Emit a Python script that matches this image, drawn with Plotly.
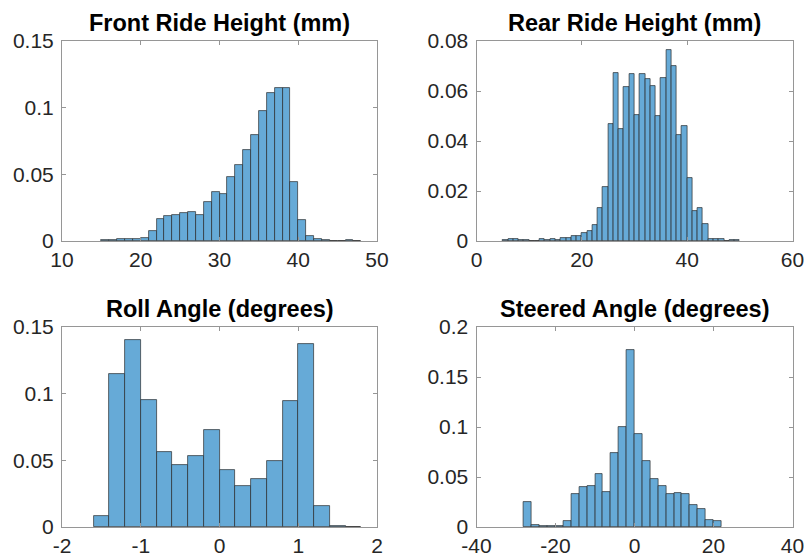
import plotly.graph_objects as go

# ---- data (bin left edges, bin widths, probability values) ----
front_edges = [15, 16, 17, 18, 19, 20, 21, 22, 23, 24, 25, 26, 27, 28, 29, 30, 31,
               32, 33, 34, 35, 36, 37, 38, 39, 40, 41, 42, 43, 44, 45, 46, 47]
front_width = 1
front_vals = [0.0005, 0.0005, 0.0012, 0.0015, 0.0015, 0.0025, 0.0072, 0.0167, 0.0185,
              0.0197, 0.0207, 0.0215, 0.0192, 0.0292, 0.0367, 0.0355, 0.0480, 0.0567,
              0.0680, 0.0797, 0.0972, 0.1110, 0.1150, 0.1150, 0.0445, 0.0155, 0.0040,
              0.0012, 0.0005, 0.0002, 0.0003, 0.0004, 0.0003]

rear_edges = [5, 6, 7, 8, 9, 10, 11, 12, 13, 14, 15, 16, 17, 18, 19, 20, 21, 22, 23,
              24, 25, 26, 27, 28, 29, 30, 31, 32, 33, 34, 35, 36, 37, 38, 39, 40, 41,
              42, 43, 44, 45, 46, 47, 48, 49]
rear_width = 1
rear_vals = [0.0004, 0.0007, 0.0007, 0.0004, 0.0004, 0.0, 0.0, 0.0009, 0.0004, 0.0007,
             0.0004, 0.0011, 0.0012, 0.0020, 0.0021, 0.0033, 0.0040, 0.0065, 0.0132,
             0.0216, 0.0468, 0.0672, 0.0449, 0.0616, 0.0668, 0.0504, 0.0668, 0.0648,
             0.0619, 0.0499, 0.0653, 0.0764, 0.0700, 0.0423, 0.0460, 0.0251, 0.0121,
             0.0132, 0.0070, 0.0009, 0.0008, 0.0009, 0.0, 0.0003, 0.0003]

roll_edges = [-1.6, -1.4, -1.2, -1.0, -0.8, -0.6, -0.4, -0.2, 0.0, 0.2, 0.4, 0.6,
              0.8, 1.0, 1.2, 1.4, 1.6]
roll_width = 0.2
roll_vals = [0.0080, 0.1150, 0.1400, 0.0955, 0.0565, 0.0463, 0.0530, 0.0725, 0.0428,
             0.0310, 0.0360, 0.0498, 0.0948, 0.1375, 0.0160, 0.0010, 0.0003]

steer_edges = [-28, -26, -24, -22, -20, -18, -16, -14, -12, -10, -8, -6, -4, -2, 0,
               2, 4, 6, 8, 10, 12, 14, 16, 18, 20]
steer_width = 2
steer_vals = [0.0253, 0.0023, 0.0013, 0.0010, 0.0010, 0.0060, 0.0330, 0.0400, 0.0410,
              0.0530, 0.0347, 0.0737, 0.0997, 0.1770, 0.0933, 0.0660, 0.0483, 0.0413,
              0.0333, 0.0340, 0.0333, 0.0220, 0.0177, 0.0073, 0.0063]

titles = ["Front Ride Height (mm)", "Rear Ride Height (mm)",
          "Roll Angle (degrees)", "Steered Angle (degrees)"]

x_ticks = [[10, 20, 30, 40, 50], [0, 20, 40, 60], [-2, -1, 0, 1, 2], [-40, -20, 0, 20, 40]]
x_ticktext = [["10", "20", "30", "40", "50"], ["0", "20", "40", "60"],
              ["-2", "-1", "0", "1", "2"], ["-40", "-20", "0", "20", "40"]]
y_ticks = [[0, 0.05, 0.1, 0.15], [0, 0.02, 0.04, 0.06, 0.08],
           [0, 0.05, 0.1, 0.15], [0, 0.05, 0.1, 0.15, 0.2]]
y_ticktext = [["0", "0.05", "0.1", "0.15"], ["0", "0.02", "0.04", "0.06", "0.08"],
              ["0", "0.05", "0.1", "0.15"], ["0", "0.05", "0.1", "0.15", "0.2"]]
x_ranges = [[10, 50], [0, 60], [-2, 2], [-40, 40]]
y_ranges = [[0, 0.15], [0, 0.08], [0, 0.15], [0, 0.2]]

series = [(front_edges, front_vals, front_width), (rear_edges, rear_vals, rear_width),
          (roll_edges, roll_vals, roll_width), (steer_edges, steer_vals, steer_width)]

# ---- layout geometry (pixels) ----
W, H = 806, 558
boxes = [(62, 377, 41, 241), (476.5, 792.5, 41, 241),
         (62, 377, 327, 527), (476.5, 792.5, 327, 527)]

BAR_FILL = "rgb(102,170,215)"
BAR_EDGE = "rgba(38,38,38,0.85)"
AX_COL = "#969696"
TXT_COL = "#262626"
FONT = "Liberation Sans, Arial, Helvetica, sans-serif"

fig = go.Figure()
layout = dict(width=W, height=H, margin=dict(l=0, r=0, t=0, b=0, autoexpand=False),
              paper_bgcolor="white", plot_bgcolor="white", showlegend=False,
              bargap=0, font=dict(family=FONT, size=21, color=TXT_COL))
annotations = []
for i, ((edges, vals, w), (l, r, t, b)) in enumerate(zip(series, boxes)):
    n = "" if i == 0 else str(i + 1)
    fig.add_trace(go.Bar(x=edges, y=vals, width=[w] * len(edges), offset=0,
                         marker=dict(color=BAR_FILL, line=dict(color=BAR_EDGE, width=0.8)),
                         xaxis="x" + n, yaxis="y" + n, hoverinfo="x+y"))
    axstyle = dict(showgrid=False, zeroline=False, showline=True, mirror="ticks",
                   linecolor=AX_COL, linewidth=1, ticks="inside", ticklen=4,
                   tickcolor=AX_COL, tickwidth=1, automargin=False,
                   tickfont=dict(family=FONT, size=21, color=TXT_COL))
    layout["xaxis" + n] = dict(axstyle, domain=[l / W, r / W], range=x_ranges[i],
                               tickvals=x_ticks[i], ticktext=x_ticktext[i],
                               anchor="y" + n)
    layout["yaxis" + n] = dict(axstyle, domain=[1 - b / H, 1 - t / H], range=y_ranges[i],
                               tickvals=y_ticks[i], ticktext=y_ticktext[i],
                               anchor="x" + n, ticklabelstandoff=3)
    annotations.append(dict(text="<b>" + titles[i] + "</b>", xref="paper", yref="paper",
                            x=(l + r) / 2 / W, y=1 - (t - 3) / H, xanchor="center",
                            yanchor="bottom", showarrow=False,
                            font=dict(family=FONT, size=23.5, color="black")))
layout["annotations"] = annotations
fig.update_layout(**layout)
fig.write_html("out.html", config={"displayModeBar": False},
               post_script="document.body.style.margin='0';")
